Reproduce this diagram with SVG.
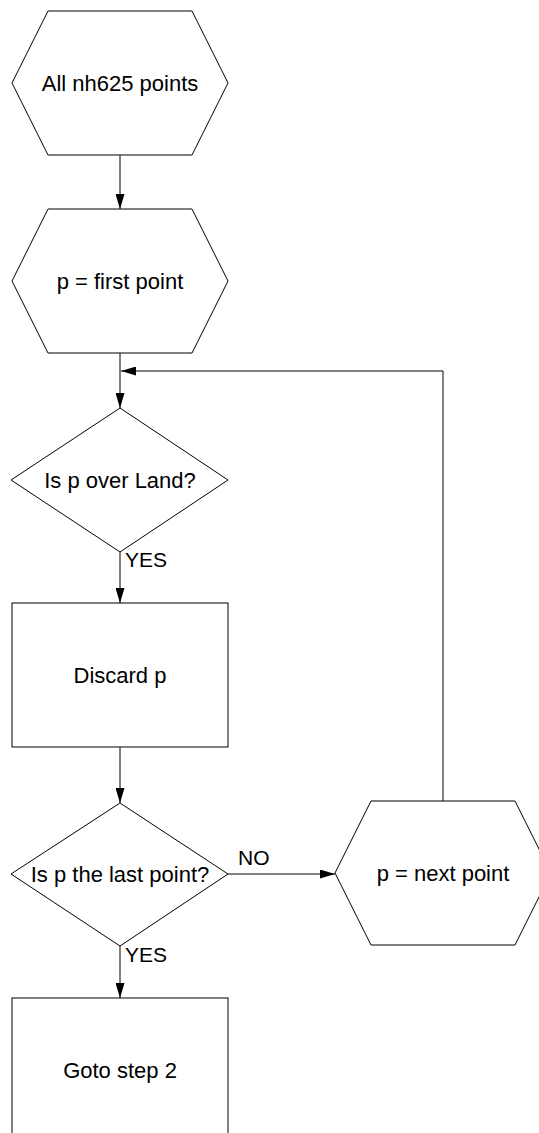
<svg xmlns="http://www.w3.org/2000/svg" width="539" height="1133" viewBox="0 0 539 1133">
<style>
.s{fill:#fff;stroke:#000;stroke-width:1}
.t{font-family:"Liberation Sans",Arial,sans-serif;font-size:22px;fill:#000;text-anchor:middle}
.l{font-family:"Liberation Sans",Arial,sans-serif;font-size:21px;fill:#000}
.c{fill:none;stroke:#000;stroke-width:1}
</style>
<defs>
<marker id="a" markerWidth="15" markerHeight="9" refX="15" refY="4.5" orient="auto" markerUnits="userSpaceOnUse">
<path d="M0,0 L15,4.5 L0,9 z" fill="#000"/>
</marker>
</defs>
<g id="connectors">
<line class="c" x1="120" y1="155" x2="120" y2="209" marker-end="url(#a)"/>
<line class="c" x1="120" y1="353" x2="120" y2="408" marker-end="url(#a)"/>
<polyline class="c" points="443,801 443,371 121,371" marker-end="url(#a)"/>
<line class="c" x1="120" y1="552" x2="120" y2="603" marker-end="url(#a)"/>
<text class="l" x="125" y="567">YES</text>
<line class="c" x1="120" y1="747" x2="120" y2="803" marker-end="url(#a)"/>
<line class="c" x1="228" y1="874" x2="335" y2="874" marker-end="url(#a)"/>
<text class="l" x="238" y="865">NO</text>
<line class="c" x1="120" y1="946" x2="120" y2="998" marker-end="url(#a)"/>
<text class="l" x="125" y="962">YES</text>
</g>
<g id="n1">
<polygon class="s" points="48,11 192,11 228,83 192,155 48,155 12,83"/>
<text class="t" x="120" y="91">All nh625 points</text>
</g>
<g id="n2">
<polygon class="s" points="48,209 192,209 228,281 192,353 48,353 12,281"/>
<text class="t" x="120" y="289">p = first point</text>
</g>
<g id="n3">
<polygon class="s" points="120,408 228,480 120,552 11,480"/>
<text class="t" x="120" y="488">Is p over Land?</text>
</g>
<g id="n4">
<rect class="s" x="12" y="603" width="216" height="144"/>
<text class="t" x="120" y="683">Discard p</text>
</g>
<g id="n5">
<polygon class="s" points="120,803 228,874 120,946 11,874"/>
<text class="t" x="120" y="882">Is p the last point?</text>
</g>
<g id="n6">
<polygon class="s" points="371,801 515,801 551,873 515,945 371,945 335,873"/>
<text class="t" x="443" y="881">p = next point</text>
</g>
<g id="n7">
<rect class="s" x="12" y="998" width="216" height="144"/>
<text class="t" x="120" y="1078">Goto step 2</text>
</g>
</svg>
